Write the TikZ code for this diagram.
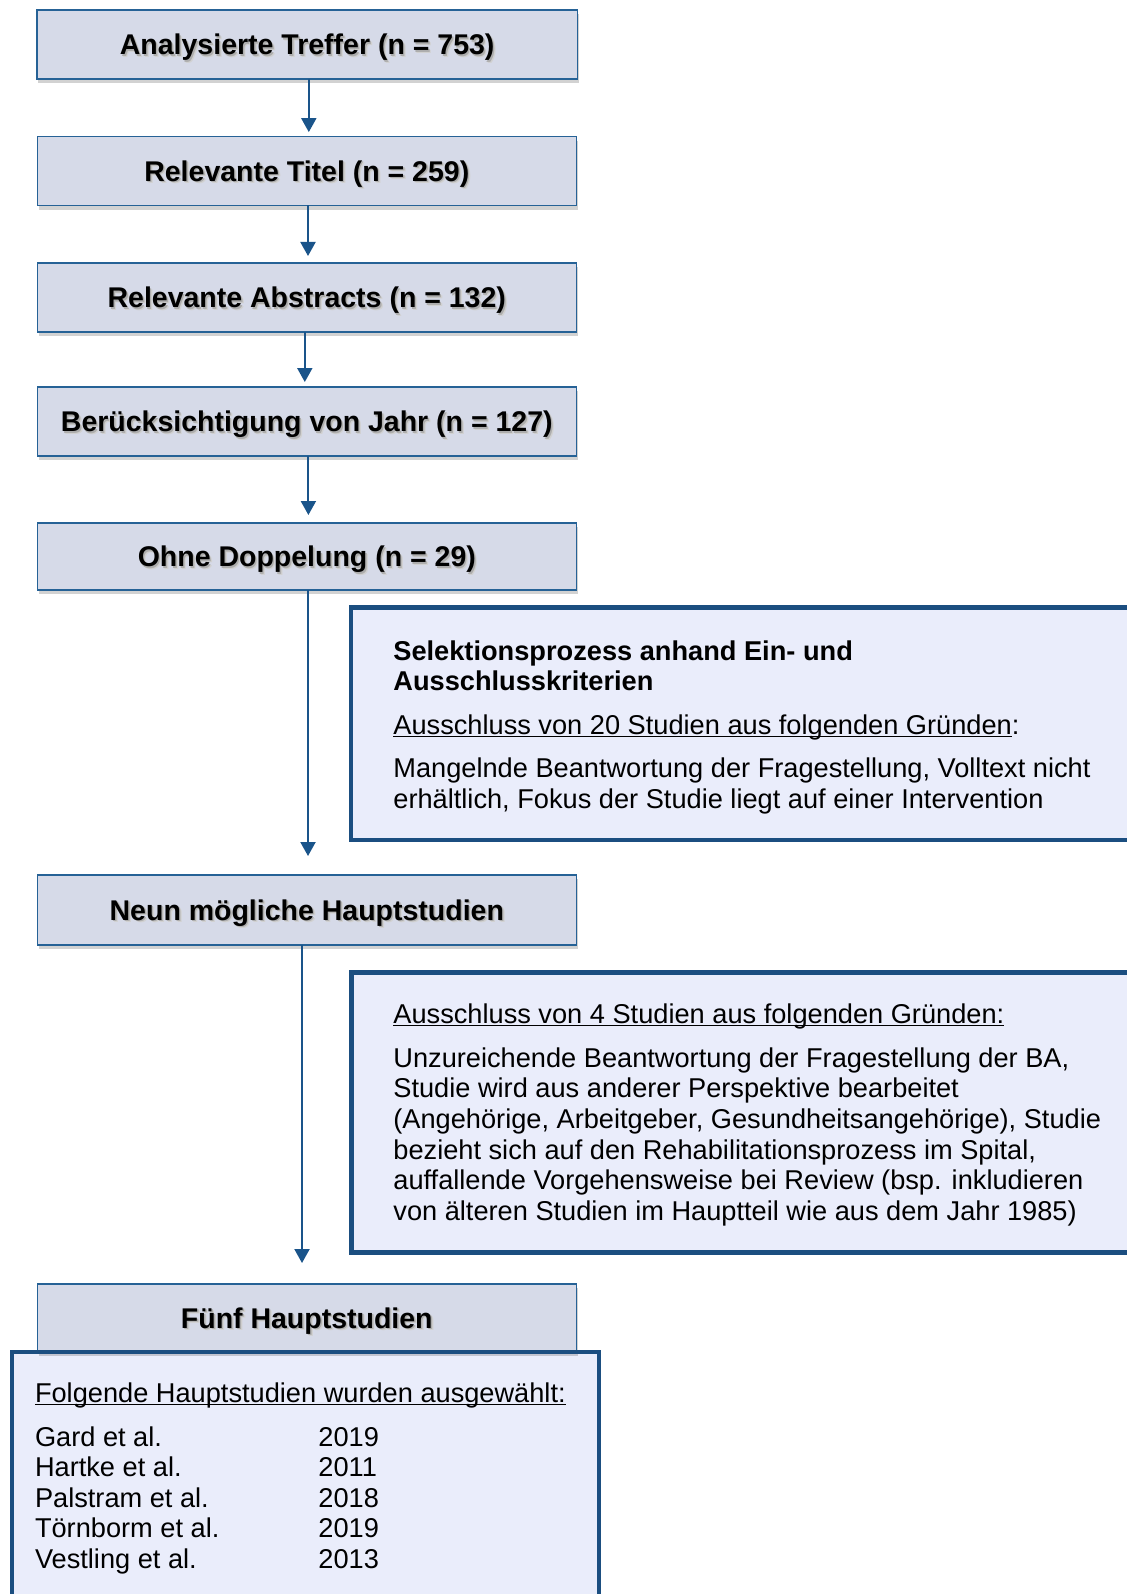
\documentclass[tikz,border=0pt]{standalone}
\usepackage{fontspec}
\setmainfont{Liberation Sans}
\usetikzlibrary{arrows.meta,shadows}
\definecolor{boxfill}{RGB}{214,218,232}
\definecolor{boxline}{RGB}{38,98,150}
\definecolor{panelfill}{RGB}{234,237,251}
\definecolor{panelline}{RGB}{27,78,128}
\definecolor{arrowc}{RGB}{26,84,138}
\newcommand\shtext[1]{\makebox[0pt][l]{\hspace{1.3pt}\raisebox{-1.3pt}{\textcolor{black!18}{#1}}}\makebox[0pt][l]{\hspace{0.7pt}\raisebox{-0.7pt}{\textcolor{black!32}{#1}}}#1}
\newcommand\uln[1]{\setbox0\hbox{#1}\rlap{\rule[-1.6pt]{\wd0}{0.75pt}}\box0}
\tikzset{
  stepbox/.style={draw=boxline, line width=0.8pt, fill=boxfill, minimum width=269.5pt,
    minimum height=34.5pt, inner sep=0pt, outer sep=0pt, text height=10.2pt, text depth=0pt,
    font=\fontsize{14.25}{16}\selectfont\bfseries,
    drop shadow={shadow xshift=0.6pt, shadow yshift=-2.2pt, opacity=0.25, fill=black!70}},
  panel/.style={draw=panelline, line width=2.4pt, fill=panelfill, anchor=north west,
    inner sep=0pt, outer sep=0pt},
  ptext/.style={anchor=base west, inner sep=0pt, font=\fontsize{13.6}{15.5}\selectfont},
  pbold/.style={ptext, font=\fontsize{13.6}{15.5}\selectfont\bfseries},
  flow/.style={draw=arrowc, line width=1pt, -{Triangle[width=7.5pt,length=7pt]}},
}
\begin{document}
\begin{tikzpicture}[x=0.5pt,y=-0.5pt]
\useasboundingbox (0,0) rectangle (1126,1594);
\fill[white] (0,0) rectangle (1126,1594);

% flow boxes
\node[stepbox, minimum width=270.2pt] (b1) at (307.2,44.5) {\shtext{Analysierte Treffer (n = 753)}};
\node[stepbox] (b2) at (306.8,171) {\shtext{Relevante Titel (n = 259)}};
\node[stepbox] (b3) at (306.8,297.5) {\shtext{Relevante Abstracts (n = 132)}};
\node[stepbox] (b4) at (306.8,421.5) {\shtext{Berücksichtigung von Jahr (n = 127)}};
\node[stepbox, minimum height=33.5pt] (b5) at (306.8,556.5) {\shtext{Ohne Doppelung (n = 29)}};
\node[stepbox, minimum height=35pt] (b6) at (306.8,910) {\shtext{Neun mögliche Hauptstudien}};

% right panels
\node[panel, minimum width=400pt, minimum height=116.25pt] (p1) at (351,607.5) {};
\node[panel, minimum width=400pt, minimum height=139.75pt] (p2) at (351.6,972.6) {};

% bottom panel (fill), final box, then panel border
\node[panel, draw=none, minimum width=293.2pt, minimum height=129pt] (pb) at (12.2,1351.7) {};
\node[stepbox, minimum height=34pt] (b7) at (306.8,1318) {\shtext{Fünf Hauptstudien}};
\draw[panelline, line width=2pt] (pb.north west) rectangle (pb.south east);

% arrows
\draw[flow, shorten >=2.2pt] ([xshift=0.8pt]b1.south) -- ([xshift=1pt]b2.north);
\draw[flow, shorten >=3.5pt] ([xshift=0.6pt]b2.south) -- ([xshift=0.6pt]b3.north);
\draw[flow, shorten >=2.5pt] ([xshift=-1pt]b3.south) -- ([xshift=-1pt]b4.north);
\draw[flow, shorten >=4pt] ([xshift=0.8pt]b4.south) -- ([xshift=0.8pt]b5.north);
\draw[flow, shorten >=9.5pt] ([xshift=0.6pt]b5.south) -- ([xshift=0.6pt]b6.north);
\draw[flow, shorten >=10.5pt] ([xshift=-2.4pt]b6.south) -- ([xshift=-2.4pt]b7.north);

% panel 1 text
\node[pbold] (t1a) at (393,660) {Selektionsprozess anhand Ein- und};
\node[pbold] (t1b) at (393,690) {Ausschlusskriterien};
\node[ptext] (t1c) at (393,734) {\uln{Ausschluss von 20 Studien aus folgenden Gründen}:};
\node[ptext] (t1d) at (393,777) {Mangelnde Beantwortung der Fragestellung, Volltext nicht};
\node[ptext] (t1e) at (393,808.5) {erhältlich, Fokus der Studie liegt auf einer Intervention};

% panel 2 text
\node[ptext] (t2a) at (393,1023) {\uln{Ausschluss von 4 Studien aus folgenden Gründen:}};
\node[ptext] (t2b) at (393,1067) {Unzureichende Beantwortung der Fragestellung der BA,};
\node[ptext] (t2c) at (393,1097.5) {Studie wird aus anderer Perspektive bearbeitet};
\node[ptext] (t2d) at (393,1128) {(Angehörige, Arbeitgeber, Gesundheitsangehörige), Studie};
\node[ptext] (t2e) at (393,1159) {bezieht sich auf den Rehabilitationsprozess im Spital,};
\node[ptext] (t2f) at (393,1189.5) {auffallende Vorgehensweise bei Review (bsp. inkludieren};
\node[ptext] (t2g) at (393,1220) {von älteren Studien im Hauptteil wie aus dem Jahr 1985)};

% bottom panel text
\node[ptext] (t3h) at (34.6,1402) {\uln{Folgende Hauptstudien wurden ausgewählt:}};
\node[ptext] (n1) at (34.6,1446) {Gard et al.};
\node[ptext] (n2) at (34.6,1476.5) {Hartke et al.};
\node[ptext] (n3) at (34.6,1507) {Palstram et al.};
\node[ptext] (n4) at (34.6,1537.5) {Törnborm et al.};
\node[ptext] (n5) at (34.6,1568) {Vestling et al.};
\node[ptext] (y1) at (318,1446) {2019};
\node[ptext] (y2) at (318,1476.5) {2011};
\node[ptext] (y3) at (318,1507) {2018};
\node[ptext] (y4) at (318,1537.5) {2019};
\node[ptext] (y5) at (318,1568) {2013};
\end{tikzpicture}
\end{document}
